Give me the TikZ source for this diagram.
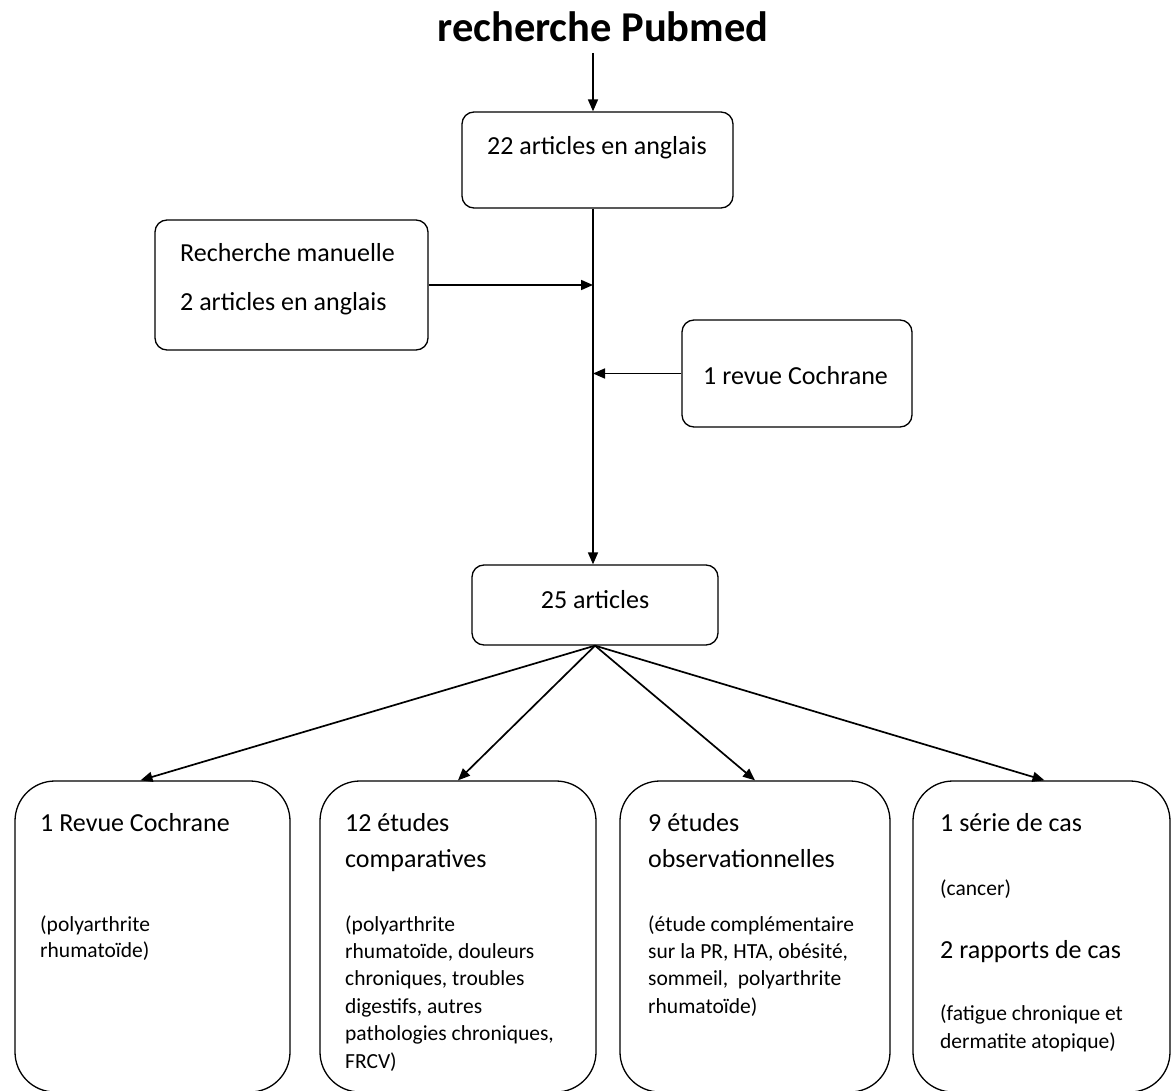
\documentclass[tikz,border=0pt]{standalone}
\usepackage{fontspec}
\setmainfont{Carlito}
\usetikzlibrary{arrows.meta}
\begin{document}
\begin{tikzpicture}[x=1pt,y=-1pt,
  box/.style={draw, line width=1.3pt, rounded corners=12pt, inner sep=0pt},
  bigbox/.style={draw, line width=1.3pt, rounded corners=40pt, inner sep=0pt},
  conn/.style={line width=1.7pt, -{Triangle[length=12pt,width=10pt]}},
  txt/.style={anchor=base west, inner sep=0pt, font=\fontsize{26}{27}\selectfont},
  ctxt/.style={anchor=base, inner sep=0pt, font=\fontsize{26}{27}\selectfont},
  small/.style={anchor=base west, inner sep=0pt, font=\fontsize{21.5}{27}\selectfont},
]
\useasboundingbox (0,0) rectangle (1171,1091);
\clip (0,0) rectangle (1171,1091);

% title
\node[anchor=base, inner sep=0pt, font=\fontsize{42.5}{46}\selectfont\bfseries] (title) at (603,42) {recherche Pubmed};
\coordinate (top) at (593,53);

% boxes
\node[box, minimum width=271pt, minimum height=96pt] (box22) at (597.5,160) {};
\node[box, minimum width=273pt, minimum height=130pt] (rech) at (291.5,285) {};
\node[box, minimum width=230pt, minimum height=107pt] (coch) at (797,373.5) {};
\node[box, minimum width=246pt, minimum height=80pt] (box25) at (595,605) {};
\node[bigbox, minimum width=275pt, minimum height=311pt] (b1) at (152.5,936.5) {};
\node[bigbox, minimum width=276pt, minimum height=311pt] (b2) at (458,936.5) {};
\node[bigbox, minimum width=270pt, minimum height=311pt] (b3) at (755,936.5) {};
\node[bigbox, minimum width=257pt, minimum height=311pt] (b4) at (1041.5,936.5) {};

% texts
\node[ctxt] (t22) at (597,155) {22 articles en anglais};
\node[txt] (tr1) at (180,262) {Recherche manuelle};
\node[txt] (tr2) at (180,311) {2 articles en anglais};
\node[txt] (tc) at (703,385) {1 revue Cochrane};
\node[ctxt] (t25) at (595,608) {25 articles};

\node[txt] (t1a) at (40,831) {1 Revue Cochrane};
\foreach \t [count=\i] in {{(polyarthrite}, {rhumatoïde)}}
  \node[small] (t1s\i) at (40,{931+26.5*(\i-1)}) {\t};

\node[txt] (t2a) at (345,831) {12 études};
\node[txt] (t2b) at (345,867) {comparatives};
\foreach \t [count=\i] in {{(polyarthrite}, {rhumatoïde, douleurs}, {chroniques, troubles}, {digestifs, autres}, {pathologies chroniques,}, {FRCV)}}
  \node[small] (t2s\i) at (345,{931+27.4*(\i-1)}) {\t};

\node[txt] (t3a) at (648,831) {9 études};
\node[txt] (t3b) at (648,867) {observationnelles};
\foreach \t [count=\i] in {{(étude complémentaire}, {sur la PR, HTA, obésité,}, {sommeil,\ \ polyarthrite}, {rhumatoïde)}}
  \node[small] (t3s\i) at (648,{931+27.4*(\i-1)}) {\t};

\node[txt] (t4a) at (940,831) {1 série de cas};
\node[small] (t4b) at (940,895) {(cancer)};
\node[txt] (t4c) at (940,958) {2 rapports de cas};
\node[small] (t4d) at (940,1020) {(fatigue chronique et};
\node[small] (t4e) at (940,1048) {dermatite atopique)};

% connectors
\draw[conn] (top) -- (top |- box22.north);
\draw[conn] (top |- box22.south) -- (top |- box25.north);
\draw[conn] (rech.east) -- (rech.east -| top);
\draw[conn] (coch.west) -- (coch.west -| top);
\draw[conn] (box25.south) -- ([xshift=-12pt]b1.north);
\draw[conn] (box25.south) -- (b2.north);
\draw[conn] (box25.south) -- (b3.north);
\draw[conn] (box25.south) -- ([xshift=3pt]b4.north);
\end{tikzpicture}
\end{document}
